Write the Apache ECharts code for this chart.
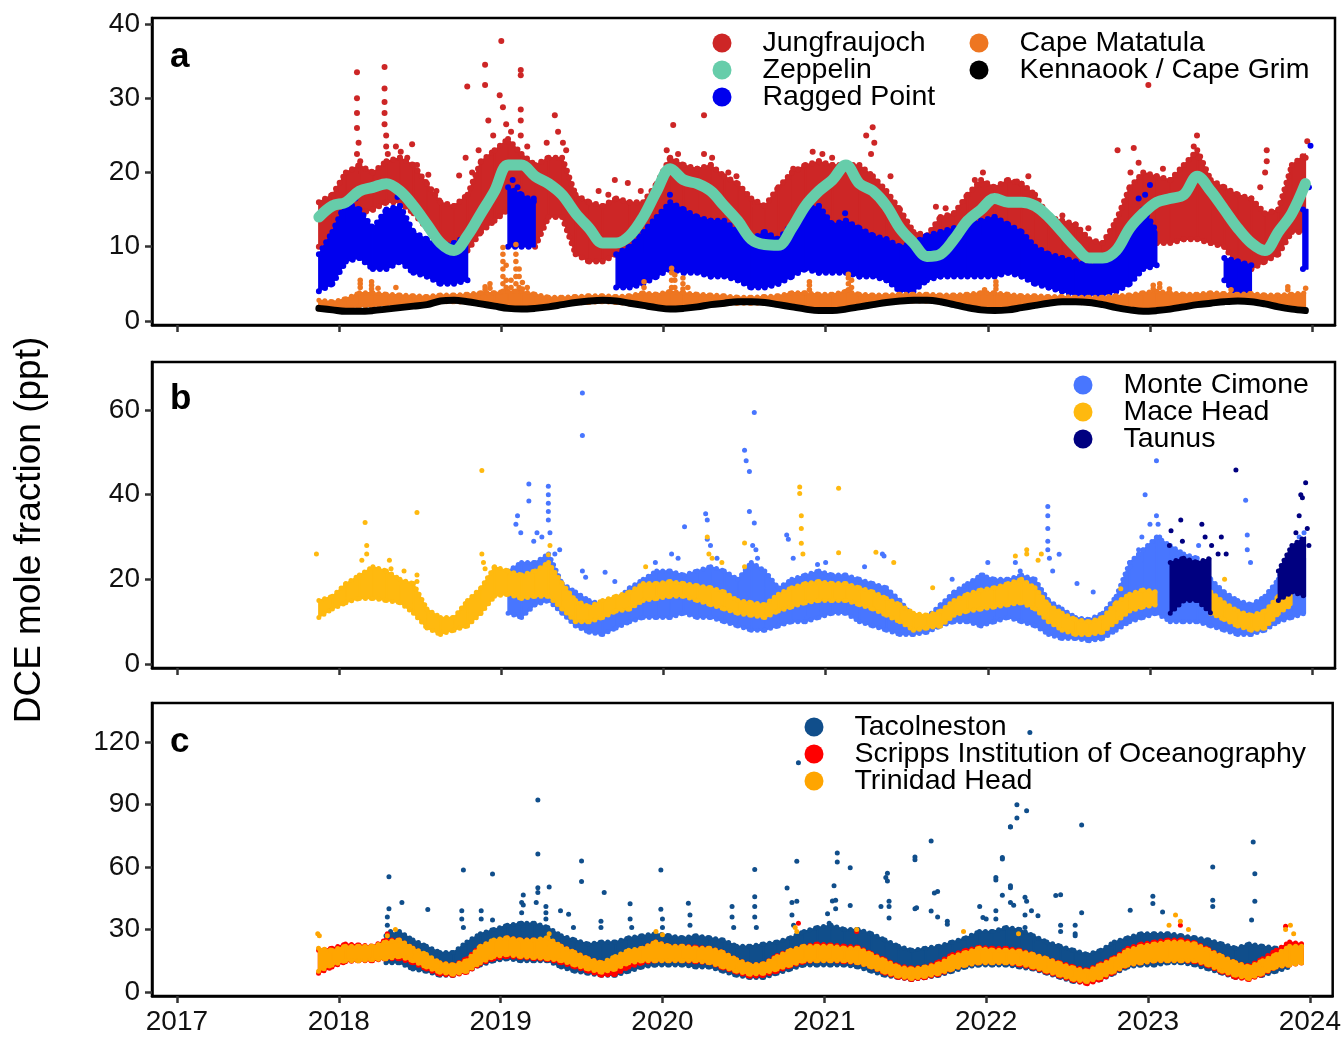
<!DOCTYPE html>
<html>
<head>
<meta charset="utf-8">
<script src="https://cdn.jsdelivr.net/npm/echarts@6/dist/echarts.min.js"></script>
<style>
  html, body { margin: 0; padding: 0; background: #fff; }
  #chart { width: 1344px; height: 1037px; }
</style>
</head>
<body>
<div id="chart"></div>
<script>
// DCE (1,2-dichloroethane) mole fractions at AGAGE-type stations, 2017-2024.
// Monthly envelopes are [low, high] of the observations in that month (null = no data);
// isolated pollution events are listed as [decimal year, ppt].

const FONT = '"Liberation Sans", Arial, Helvetica, sans-serif';

// calendar: Nov 2017 .. Dec 2023, one entry per month
const firstYear = 2017, firstMonth = 11, monthCount = 74;
const monthX = [];
for (let k = 0; k < monthCount; k++) {
  const m = firstMonth - 1 + k;
  monthX.push(firstYear + Math.floor(m / 12) + ((m % 12) + 0.5) / 12);
}

const yearTicks = [2017, 2018, 2019, 2020, 2021, 2022, 2023, 2024];
const ticksA = [0, 10, 20, 30, 40];
const ticksB = [0, 20, 40, 60];
const ticksC = [0, 30, 60, 90, 120];

// ---------- panel a ----------
const jungfraujoch = [
  [10,16],[11,17],
  [14,20],[14.5,21],[15,20],[16,21.5],[16,22],[14.5,21],[12.5,18.5],[10,16],[9.5,15.5],[9.5,17],[12,21.5],[13.5,23],
  [15,24.5],[13,22.5],[10,21],[14,22],[14,22],[9,17],[8,16],[8,15.5],[9,16.5],[9,16],[9.5,16],[11,18.5],
  [13.5,22],[12.5,21],[12,20.5],[10.5,21],[9.5,19.5],[9,18.5],[8.5,16.5],[8.5,15.5],[10,18],[11,20],[12.5,21],[13.5,21.5],
  [13,21],[12.5,21],[12,21],[10,19.5],[9,17.5],[8.5,15],[7.5,12],[7.5,11.5],[8.5,14],[9,14.5],[10.5,17],[12,19],
  [10,18],[11,19],[11,18.5],[10,17],[9,14],[8,13.5],[7.5,13],[7,11],[6.5,10.5],[6.5,13.5],[8.5,18],[10,20],
  [10.5,19.5],[10.5,19],[11,21],[11,23],[10.5,19],[10,18],[7.5,17],[7,16.5],[8,14.5],[9,15],[12,21],[12,22.5]
];
const jungfraujochEvents = [
  [2018.11,33.5],[2018.11,30],[2018.11,28],[2018.11,26],[2018.12,24],[2018.11,22.5],[2018.13,21.5],
  [2018.28,34.2],[2018.28,31.3],[2018.28,29.5],[2018.28,28],[2018.28,26.5],[2018.29,25],[2018.29,23.5],[2018.3,22.5],
  [2018.35,23.5],[2018.38,22.8],[2018.42,22],[2018.45,23.8],[2018.48,21],[2018.55,19.7],[2018.6,17.5],
  [2018.74,19.6],[2018.79,31.6],[2018.78,22],[2018.82,20],[2018.86,23],[2018.9,34.5],[2018.9,31.8],[2018.92,27],
  [2018.95,25],[2018.99,30.4],[2019.0,37.7],[2019.01,28.8],[2019.03,26.5],[2019.06,25.5],[2019.12,33.8],[2019.12,33.1],
  [2019.12,28.5],[2019.12,27],[2019.12,25],[2019.16,23.5],[2019.33,27.7],[2019.35,25.5],[2019.28,24],[2019.38,24],
  [2019.4,23],[2019.6,17.5],[2019.66,17],[2019.7,19],[2019.78,18.6],[2019.86,17.5],[2020.06,26.4],[2020.02,23],
  [2020.09,22.5],[2020.25,27.7],[2020.25,22.5],[2020.3,22],[2020.4,20],[2020.45,19.5],[2020.8,20.5],[2020.92,22.8],
  [2020.98,22.5],[2021.04,22],[2021.25,25],[2021.29,26.1],[2021.3,24],[2021.28,22.5],[2021.4,19.5],[2021.68,15.4],
  [2021.74,15.2],[2021.92,19],[2021.97,20],[2022.18,18.8],[2022.25,19.5],[2022.46,14.2],[2022.62,12.5],[2022.8,23],
  [2022.9,23.3],[2022.88,20],[2022.99,31.8],[2022.93,21.3],[2023.08,20.5],[2023.29,25],[2023.27,23.5],[2023.3,22],
  [2023.72,23],[2023.72,21.5],[2023.71,20],[2023.68,18],[2023.97,24.2],[2023.96,22]
];
const zeppelin = [
  14,15.5,
  16,17.5,18,18.5,17.5,15.5,13,10.5,9.5,11.5,14.5,17.5,
  21,21,19.5,18.5,17,14.5,12.5,10.5,10.5,11.5,14,17.5,
  20.5,19,18.5,17.5,15.5,13.5,11,10.3,10.2,12.5,15.5,17.5,
  19,21,18.5,17.5,15.5,12.5,10.5,8.7,9,11,13.5,15,
  16.5,16,16,15.5,14,12,10,8.5,8.5,9.5,12.5,14.5,
  16,16.5,17,19.5,17.5,15,12.5,10.5,9.5,12,14.5,18.5
];
const raggedPoint = [
  [4,9],[5,12],
  [8,16],[8.5,15],[7,12.5],[7,15],[8,15.5],[6.5,12],[6,11],[5,10],[5,10.5],[5.5,11.5],null,null,
  [10,18],[10,17],[10,16],null,null,null,null,null,[4.5,9],[4.5,10],[5,12],[6,14],
  [7,16],[6.5,15],[6.5,14],[6,13.5],[6,13.5],[5.5,12],[4.5,11],[4.5,12],[5,11],[6,13],[7,15],[6.5,15.5],
  [6.5,13],[6.5,13.5],[6,12.5],[6,11.5],[5.5,11],[4,10],[4,10.5],[5.5,11.5],[6,12],[6,12.5],[6,13],[6,13.5],
  [6,14],[6.5,13],[6,12],[5,10],[4.5,9],[4,8.5],[3.5,8],[3.5,7.5],[3.5,8],[4,9],[5,12],[7,15],
  [7.5,12],null,null,null,null,[5.5,8.5],[3.5,8],[3.5,7.5],null,null,null,[7,15]
];
const raggedPointEvents = [
  [2018.36,16.7],[2018.1,16.5],[2019.07,19],[2019.1,18],[2019.2,16.5],[2020.04,17],[2020.9,15.5],[2021.12,14.5],
  [2022.93,16.5],[2023.0,18.3],[2022.97,17],[2023.98,18],[2023.99,23.6]
];
const capeMatatula = [
  [1.6,2.8],[1.5,2.6],
  [1.6,3.0],[2.0,3.8],[2.0,3.8],[2.2,3.6],[2.2,3.5],[2.3,3.4],[2.4,3.3],[2.6,3.5],[2.6,3.5],[2.5,3.6],[2.2,3.8],[2.0,3.8],
  [1.8,4.0],[1.8,4.0],[1.9,3.6],[2.0,3.2],[2.2,3.2],[2.4,3.3],[2.5,3.4],[2.6,3.4],[2.5,3.3],[2.3,3.4],[2.1,3.8],[1.9,3.6],
  [1.8,4.0],[1.8,3.8],[2.0,3.6],[2.2,3.5],[2.3,3.4],[2.4,3.2],[2.4,3.2],[2.4,3.3],[2.2,3.4],[2.0,3.8],[1.8,3.8],[1.6,3.6],
  [1.6,3.6],[1.8,4.0],[2.0,3.6],[2.3,3.5],[2.5,3.5],[2.6,3.6],[2.7,3.6],[2.7,3.6],[2.5,3.5],[2.2,3.5],[1.9,3.6],[1.7,3.8],
  [1.6,3.8],[1.7,3.6],[1.9,3.4],[2.2,3.4],[2.4,3.3],[2.5,3.3],[2.5,3.2],[2.4,3.2],[2.2,3.2],[1.9,3.4],[1.6,3.5],[1.5,3.8],
  [1.6,4.0],[1.8,3.8],[2.1,3.6],[2.3,3.6],[2.5,3.8],[2.6,3.7],[2.7,3.6],[2.6,3.7],[2.4,3.5],[2.1,3.5],[1.8,3.6],[1.6,3.8]
];
const capeMatatulaEvents = [
  [2018.13,4.5],[2018.13,5],[2018.13,5.5],[2018.2,4.3],[2018.2,4.8],[2018.2,5.3],[2018.24,4.4],[2018.35,4.5],
  [2018.9,4.2],[2018.9,4.6],[2018.93,4.4],[2018.93,5],
  [2019.01,4],[2019.01,5],[2019.01,6],[2019.01,7],[2019.01,8],[2019.01,9],[2019.01,9.9],[2019.03,4.5],[2019.03,5.5],
  [2019.03,7.5],[2019.06,4.5],[2019.06,5.5],[2019.09,4],[2019.09,5],[2019.09,6],[2019.09,7],[2019.09,8],[2019.09,9],
  [2019.09,10.3],[2019.11,4.5],[2019.11,6],[2019.11,7],[2019.13,4.3],[2019.13,5.2],[2019.16,4.5],
  [2019.88,4.5],[2019.88,5.3],[2020.05,4.5],[2020.05,5.5],[2020.05,6.5],[2020.05,7.1],[2020.07,4.5],[2020.07,5.5],
  [2020.07,6.2],[2020.12,4.3],[2020.12,5],[2020.12,5.8],[2020.15,4.5],
  [2020.9,4.2],[2020.9,4.8],[2020.9,5.3],[2021.14,4.2],[2021.14,5],[2021.14,5.8],[2021.14,6.3],[2021.16,4.5],[2021.16,5.5],
  [2021.98,4.2],[2022.05,4.3],[2022.05,4.8],[2022.05,5.3],
  [2023.02,4.3],[2023.02,4.8],[2023.06,4.5],[2023.06,5],[2023.12,4.3],[2023.5,4.2],[2023.85,4.2],[2023.85,4.6],[2023.96,4.4]
];
const kennaook = [
  1.7,1.5,
  1.3,1.3,1.4,1.6,1.8,2.0,2.2,2.7,2.8,2.6,2.3,2.0,
  1.7,1.6,1.7,1.9,2.2,2.5,2.7,2.8,2.7,2.4,2.1,1.8,
  1.6,1.7,1.9,2.2,2.4,2.6,2.6,2.5,2.2,1.9,1.6,1.4,
  1.4,1.6,1.9,2.2,2.5,2.7,2.8,2.8,2.6,2.2,1.8,1.5,
  1.4,1.5,1.8,2.1,2.4,2.6,2.6,2.5,2.2,1.8,1.5,1.3,
  1.4,1.6,1.9,2.2,2.4,2.6,2.7,2.6,2.3,1.9,1.6,1.4
];

// ---------- panel b ----------
const monteCimone = [
  null,null,
  null,null,null,null,null,null,null,null,null,null,null,null,
  [12,22],[11,24],[14,24],[15,26],[12,19],[9,17],[7.5,15],[7,14],[8.5,15],[10,18],[11,20],[11,22],
  [11,22],[12,21],[11,22],[11,23],[10,22],[9,20],[8,24],[8,22],[9,18],[10,20],[10,21],[11,22],
  [12,21],[12,21],[10,20],[9,19],[8,18],[7,15],[7,11],[7.5,11],[9,14],[10,17],[10,19],[9,21],
  [10,20],[11,20],[10,21],[9,20],[7,15],[6,13],[6,11],[5.5,10.5],[6,12],[8,16],[10,24],[11,27],
  [12,30],[10,28],[10,26],[10,25],[9,20],[8,17],[7,15],[7,14],[8,16],[10,20],[11,23],[12,25]
];
const monteCimoneEvents = [
  [2019.09,33],[2019.1,35],[2019.12,31],[2019.17,42.5],[2019.17,38.5],[2019.2,29],[2019.22,31],[2019.25,30],
  [2019.29,42],[2019.29,40],[2019.29,38],[2019.29,36],[2019.29,34],[2019.3,31],[2019.33,26],[2019.36,27],
  [2019.5,64],[2019.5,54],[2019.5,22],[2019.52,20.5],[2019.64,21.7],[2019.7,19.5],[2019.95,24],[2020.05,26],
  [2020.09,25],[2020.13,32.4],[2020.26,35.5],[2020.27,34],[2020.27,29.5],[2020.29,28],[2020.33,25],[2020.5,50.5],
  [2020.51,48],[2020.53,45.5],[2020.56,59.4],[2020.53,36],[2020.56,33.3],[2020.55,28],[2020.57,27],[2020.58,25],
  [2020.76,30.5],[2020.77,29.5],[2020.8,25],[2020.95,23.5],[2021.0,24],[2021.24,23],[2021.35,26],[2021.36,25.5],
  [2021.78,20],[2021.97,21],[2022.0,24],[2022.17,24],[2022.2,22],[2022.37,37.2],[2022.37,35],[2022.37,32],
  [2022.37,29],[2022.37,27],[2022.38,25],[2022.4,22],[2022.44,25.9],[2022.55,19],[2022.65,17],[2022.88,23],
  [2022.93,27],[2022.95,30],[2022.97,40],[2023.0,33],[2023.04,48],[2023.04,35],[2023.05,33],[2023.06,30],
  [2023.3,28],[2023.59,38.7],[2023.6,30.5],[2023.6,27],[2023.62,24],[2023.8,21],[2023.87,26],[2023.92,30],
  [2023.95,31],[2023.95,28]
];
const maceHead = [
  [11,15],[13,16],
  [14.5,19],[15.5,21],[15.5,23],[15,22],[14.5,20],[12,19],[8.5,13],[7,11],[8,11],[9,15],[12,18],[16,23],
  [16.5,22],[15.5,21],[16,22],[16,24],[13,19],[10,15],[10,13.5],[11,15],[12.5,16],[13,17],[15,19],[15.5,19],
  [16,19.5],[16,19],[15,18.5],[14,18],[13,17],[12,15],[11.5,14.5],[11,14],[12.5,16.5],[13.5,18],[14.5,19],[15,19.5],
  [15,19],[15,19],[14,18],[13,17],[11.5,15.5],[10,14],[8,12],[8.5,11.5],[9,12.5],[11.5,15],[12.5,16.5],[13,17.5],
  [13.5,18],[14,19],[14.5,20],[13,18],[10,14],[8,12],[7,10.5],[7,10],[7.5,11],[10,14.5],[12.5,16.5],[13.5,17.5],
  [14,17],null,null,null,[12,17],[10.5,14.5],[9,12.5],[8,11.5],[8.5,12.5],[12,16],[14,19],null
];
const maceHeadEvents = [
  [2017.86,26],[2018.14,24.5],[2018.16,33.4],[2018.17,28],[2018.17,26],[2018.31,24.5],[2018.32,22.5],[2018.4,22],
  [2018.48,35.8],[2018.48,21],[2018.48,19.5],[2018.88,45.7],[2018.88,26],[2018.89,24],[2018.9,22.5],[2019.29,25.8],
  [2019.3,28],[2019.89,23],[2020.27,30],[2020.28,26],[2020.3,25],[2020.36,24],[2020.5,28.6],[2020.84,41.8],
  [2020.84,40.3],[2020.85,35],[2020.85,32],[2020.85,28.5],[2020.86,26],[2020.5,23],[2021.08,41.5],[2021.08,26.3],
  [2021.31,26.4],[2021.42,24],[2021.66,18],[2022.17,25.5],[2022.24,27],[2022.24,26],[2022.33,26],[2022.31,24.5],
  [2022.82,17.8],[2023.46,20],[2023.84,20]
];
const taunus = [
  null,null,
  null,null,null,null,null,null,null,null,null,null,null,null,
  null,null,null,null,null,null,null,null,null,null,null,null,
  null,null,null,null,null,null,null,null,null,null,null,null,
  null,null,null,null,null,null,null,null,null,null,null,null,
  null,null,null,null,null,null,null,null,null,null,null,null,
  null,[12,24],[15,25],[15,24],[12,25],null,null,null,null,[15,22],[17,28],[16,30]
];
const taunusEvents = [
  [2023.12,28],[2023.13,31.5],[2023.19,34],[2023.2,29],[2023.32,33],[2023.34,30],[2023.38,28],[2023.42,26],
  [2023.44,30],[2023.47,26],[2023.53,45.8],[2023.88,27],[2023.9,31],[2023.92,35],[2023.93,40],[2023.94,39.3],
  [2023.96,42.8],[2023.97,32],[2023.98,28]
];

// ---------- panel c ----------
const tacolneston = [
  null,null,
  null,null,null,[14,27],[14,29],[11,25],[10,22],[8,19],[8,19],[10,24],[13,28],[15,30],
  [16,32],[15,33],[15,33],[15,31],[12,27],[10,25],[9,23],[8,24],[8,24],[10,26],[12,27],[13,28],
  [13,27],[13,26],[12,27],[12,26],[10,25],[8,22],[7,22],[7,23],[9,24],[11,26],[13,29],[13,31],
  [13,32],[13,30],[12,30],[10,28],[8,25],[7,22],[6,20],[7,21],[8,22],[10,24],[12,26],[13,29],
  [13,29],[13,31],[12,30],[11,27],[9,24],[7,22],[5,20],[4.5,18],[6,20],[9,24],[12,26],[13,28],
  [13,28],[14,28],[14,27],[13,26],[11,25],[9,23],[7,21],[7,23],[8,22],[10,21],[12,20],null
];
const tacolnestonEvents = [
  [2018.31,55.3],[2018.31,40],[2018.3,36],[2018.3,32],[2018.32,29],[2018.39,43],[2018.55,39.6],[2018.76,39],[2018.76,35],
  [2018.77,31],[2018.77,58.6],[2018.88,39],[2018.88,35],[2018.95,56.6],[2018.95,34.5],[2019.13,43],[2019.13,38],
  [2019.13,33],[2019.14,46.5],[2019.14,41.8],[2019.14,30],[2019.23,92.2],[2019.23,66.2],[2019.23,50],[2019.23,47.8],
  [2019.22,43],[2019.28,41],[2019.28,38],[2019.28,35],[2019.3,50.4],[2019.37,39],[2019.42,37.3],[2019.45,31],
  [2019.5,62.9],[2019.5,53],[2019.62,34],[2019.62,31],[2019.64,47.8],[2019.8,42.4],[2019.8,35],[2019.81,31],
  [2019.99,58.6],[2019.99,39.7],[2020.0,35],[2020.0,31],[2020.16,42.6],[2020.17,37],[2020.17,32],[2020.43,41],
  [2020.43,36],[2020.44,31],[2020.57,58.8],[2020.57,45.7],[2020.57,41],[2020.57,36],[2020.58,31],[2020.77,49.9],
  [2020.8,43],[2020.8,37],[2020.81,32],[2020.83,62.7],[2020.83,43.5],[2020.84,110],[2021.02,37.5],[2021.03,33],
  [2021.05,43.7],[2021.06,51],[2021.07,44],[2021.07,40],[2021.08,66.7],[2021.08,62.4],[2021.16,59.6],[2021.16,41.5],
  [2021.35,41],[2021.38,55],[2021.39,57],[2021.39,53.3],[2021.4,43.5],[2021.4,41],[2021.4,35.5],[2021.56,64.8],
  [2021.56,63.5],[2021.56,40],[2021.57,40.4],[2021.66,72.5],[2021.66,38.9],[2021.68,47.5],[2021.7,48.2],[2021.7,36],
  [2021.76,34],[2021.76,32.5],[2021.96,41],[2021.98,35.8],[2022.0,35],[2022.06,53.8],[2022.06,55],[2022.06,39],
  [2022.06,35],[2022.1,63.8],[2022.1,64.5],[2022.1,46.4],[2022.15,79.2],[2022.15,79.3],[2022.15,50],[2022.15,43],
  [2022.17,41.6],[2022.19,83.5],[2022.19,89.9],[2022.15,51],[2022.24,45.5],[2022.24,37],[2022.24,31],[2022.25,87],
  [2022.27,124.5],[2022.25,43.5],[2022.28,39],[2022.32,36.6],[2022.43,46.3],[2022.46,46.7],[2022.46,32],[2022.46,29],
  [2022.55,32],[2022.55,28],[2022.59,80.2],[2022.59,38],[2022.55,27],[2022.89,39.2],[2023.03,46],[2023.03,42.5],
  [2023.09,38.4],[2023.4,60],[2023.4,44],[2023.4,41],[2023.65,72],[2023.66,56.8],[2023.66,43.5],[2023.64,34.6]
];
const scripps = [
  [9,20],[12,21],
  [14.5,23],[15,22.5],[15,22],[16,25],[16,25],[14,21],[11,17.5],[8.5,14],[8,13],[9.5,16],[13.5,22],[16,24.5],
  [17,26],[16.5,25],[16,25],[15.5,25],[14,22],[12,19],[10,16],[8,14],[8.5,16],[12,19],[14,21],[15,24],
  [15,22],[15,22],[14.5,21.5],[14,21],[11.5,19],[9.5,15.5],[7.5,13],[8,13.5],[10,17.5],[12.5,20],[14.5,22],[15,23],
  [15,22.5],[14.5,22],[14,21.5],[12,18.5],[9,15.5],[7,12.5],[6,11.5],[7,12],[8.5,14.5],[11,18],[13,20],[14,21.5],
  [14,21],[14,21],[13,20],[11.5,18],[9.5,16],[7.5,14],[5.5,12],[4,10.5],[6,13.5],[9.5,16.5],[13,21],[14,23],
  [15,24],[15,25],[15,25],[14.5,23.5],[12.5,20.5],[9.5,17],[7,14],[6,12.5],[8.5,16],[12,20],[13,24],[14,23]
];
const scrippsEvents = [
  [2020.84,33],[2023.2,32],[2023.85,31.5],[2018.3,28],[2021.2,29]
];
const trinidadHead = [
  [10,21],[13,20],
  [15,22],[15,22],[15.5,22],[16,24],[17,25],[15,21],[12,18],[9.5,14],[8.5,13],[10,15],[14,22],[17,25],
  [18,26],[17,25],[16.5,25],[16,26],[15,22],[13,19],[11,16],[9.5,14],[11,17],[14,20],[15,21],[15,24],
  [15,22],[15,22],[15,21],[14,21],[12,19],[10,15.5],[8.5,13],[9,13.5],[11,17],[13,20],[15,22],[15,22],
  [15,22],[15,21],[14,21],[12,18],[9.5,15],[7.5,12],[6.5,11],[7.5,12],[9,13.5],[11,17],[13,19],[14,21],
  [14,20],[14,20],[13.5,19.5],[12,18],[10,16],[8,13.5],[6,11.5],[5,10],[7,13],[10,16],[13,20],[14,22],
  [15,23],[15,24],[15,24],[15,23],[13,20],[10,17],[8,14],[6.5,12],[9,15],[12,18],[13,22],[14,22]
];
const trinidadHeadEvents = [
  [2017.87,28],[2017.88,27],[2018.3,27],[2018.35,30],[2019.3,28],[2019.96,29],[2020.0,27.5],[2020.82,31],
  [2020.83,29],[2021.2,30],[2021.86,29],[2022.2,28],[2023.17,37],[2023.2,34],[2023.13,32],[2023.25,30],
  [2023.85,30],[2023.88,32],[2023.9,28]
];

// ---------- series builders ----------
let zCounter = 2;

// filled envelope between monthly low/high values, with beaded edges like dense markers
function envelope(name, color, rows, ax, bead) {
  const segs = [];
  for (let i = 0; i < rows.length; i++) {
    const a = rows[i];
    if (!a) continue;
    const b = rows[i + 1];
    if (b) {
      segs.push([monthX[i], a[0], a[1], monthX[i + 1], b[0], b[1]]);
    } else if (!rows[i - 1]) {
      segs.push([monthX[i] - 0.015, a[0], a[1], monthX[i] + 0.015, a[0], a[1]]);
    }
  }
  const edge = { stroke: color, lineWidth: bead, lineCap: 'round', lineDash: [0, bead + 1], fill: null };
  return {
    type: 'custom', name, xAxisIndex: ax, yAxisIndex: ax, z: zCounter++,
    itemStyle: { color }, silent: true, data: segs,
    encode: { x: [0, 3], y: [1, 2, 4, 5] },
    renderItem: (params, api) => {
      const p0 = api.coord([api.value(0), api.value(1)]);
      const p1 = api.coord([api.value(3), api.value(4)]);
      const p2 = api.coord([api.value(3), api.value(5)]);
      const p3 = api.coord([api.value(0), api.value(2)]);
      return {
        type: 'group',
        children: [
          { type: 'polygon', shape: { points: [p0, p1, p2, p3] },
            style: { fill: color, stroke: color, lineWidth: 1.5, lineJoin: 'round' } },
          { type: 'polyline', shape: { points: [p3, p2] }, style: edge },
          { type: 'polyline', shape: { points: [p0, p1] }, style: edge }
        ]
      };
    }
  };
}

function events(name, color, pts, ax, size) {
  return {
    type: 'scatter', name, xAxisIndex: ax, yAxisIndex: ax, z: zCounter++,
    data: pts, symbolSize: size, itemStyle: { color, opacity: 1 }, silent: true
  };
}

function trend(name, color, vals, ax, width) {
  return {
    type: 'line', name, xAxisIndex: ax, yAxisIndex: ax, z: zCounter++,
    data: monthX.map((x, i) => [x, vals[i]]),
    showSymbol: false, smooth: 0.35, silent: true,
    itemStyle: { color },
    lineStyle: { color, width, cap: 'round', join: 'round' }
  };
}

const C = {
  jfj: '#CD2626', zep: '#66CDAA', rpb: '#0000EE', smo: '#EE7621', cgo: '#000000',
  cmn: '#4876FF', mhd: '#FFB90F', tob: '#000080',
  tac: '#104E8B', sio: '#FF0000', thd: '#FFA500'
};

const series = [
  envelope('Jungfraujoch', C.jfj, jungfraujoch, 0, 6),
  events('Jungfraujoch', C.jfj, jungfraujochEvents, 0, 6),
  envelope('Ragged Point', C.rpb, raggedPoint, 0, 6),
  events('Ragged Point', C.rpb, raggedPointEvents, 0, 6),
  trend('Zeppelin', C.zep, zeppelin, 0, 11),
  envelope('Cape Matatula', C.smo, capeMatatula, 0, 5),
  events('Cape Matatula', C.smo, capeMatatulaEvents, 0, 5.5),
  trend('Kennaook / Cape Grim', C.cgo, kennaook, 0, 7),

  envelope('Monte Cimone', C.cmn, monteCimone, 1, 5),
  events('Monte Cimone', C.cmn, monteCimoneEvents, 1, 5),
  envelope('Mace Head', C.mhd, maceHead, 1, 5),
  events('Mace Head', C.mhd, maceHeadEvents, 1, 5),
  envelope('Taunus', C.tob, taunus, 1, 5),
  events('Taunus', C.tob, taunusEvents, 1, 5),

  envelope('Tacolneston', C.tac, tacolneston, 2, 5),
  events('Tacolneston', C.tac, tacolnestonEvents, 2, 5),
  envelope('Scripps Institution of Oceanography', C.sio, scripps, 2, 5),
  events('Scripps Institution of Oceanography', C.sio, scrippsEvents, 2, 5),
  envelope('Trinidad Head', C.thd, trinidadHead, 2, 5),
  events('Trinidad Head', C.thd, trinidadHeadEvents, 2, 5)
];

// ---------- axes ----------
const X_MIN = 2016.846, X_MAX = 2024.141;
function xAxis(grid, showLabels) {
  return {
    type: 'value', gridIndex: grid, min: X_MIN, max: X_MAX,
    splitLine: { show: false },
    axisLine: { show: true, onZero: false, lineStyle: { color: '#000', width: 2.5 } },
    axisTick: { show: true, customValues: yearTicks, length: 7, lineStyle: { color: '#333', width: 2.5 } },
    axisLabel: {
      show: showLabels, customValues: yearTicks, formatter: v => String(v),
      fontFamily: FONT, fontSize: 28, color: '#111', margin: 12
    }
  };
}
function yAxis(grid, min, max, ticks) {
  return {
    type: 'value', gridIndex: grid, min, max,
    splitLine: { show: false },
    axisLine: { show: true, onZero: false, lineStyle: { color: '#000', width: 2.5 } },
    axisTick: { show: true, customValues: ticks, length: 7, lineStyle: { color: '#333', width: 2.5 } },
    axisLabel: {
      customValues: ticks, formatter: v => String(v),
      fontFamily: FONT, fontSize: 28, color: '#111', margin: 12
    }
  };
}

const legendText = { fontFamily: FONT, fontSize: 28.5, lineHeight: 27, color: '#000', padding: [0, 0, 0, 26] };
function legend(names, left, top) {
  return {
    data: names, left, top, orient: 'vertical', icon: 'circle',
    itemWidth: 19, itemHeight: 19, itemGap: -2, padding: 0,
    selectedMode: false, textStyle: legendText
  };
}

const gridBox = { show: true, borderColor: '#000', borderWidth: 2.5, backgroundColor: 'transparent' };

const option = {
  animation: false,
  backgroundColor: '#fff',
  grid: [
    Object.assign({ left: 152, top: 18, width: 1183, height: 307 }, gridBox),
    Object.assign({ left: 152, top: 362, width: 1183, height: 306 }, gridBox),
    Object.assign({ left: 152, top: 703, width: 1183, height: 293 }, gridBox)
  ],
  xAxis: [xAxis(0, false), xAxis(1, false), xAxis(2, true)],
  yAxis: [
    yAxis(0, -0.54, 40.81, ticksA),
    yAxis(1, -0.94, 71.34, ticksB),
    yAxis(2, -1.92, 138.7, ticksC)
  ],
  legend: [
    legend(['Jungfraujoch', 'Zeppelin', 'Ragged Point'], 712.5, 28.5),
    legend(['Cape Matatula', 'Kennaook / Cape Grim'], 969.5, 28.5),
    legend(['Monte Cimone', 'Mace Head', 'Taunus'], 1073.5, 370.5),
    legend(['Tacolneston', 'Scripps Institution of Oceanography', 'Trinidad Head'], 804.5, 712.5)
  ],
  graphic: [
    { type: 'text', x: 170, y: 57.5, style: { text: 'a', font: 'bold 35px ' + FONT, fill: '#000', verticalAlign: 'middle' } },
    { type: 'text', x: 170, y: 399, style: { text: 'b', font: 'bold 35px ' + FONT, fill: '#000', verticalAlign: 'middle' } },
    { type: 'text', x: 170, y: 742, style: { text: 'c', font: 'bold 35px ' + FONT, fill: '#000', verticalAlign: 'middle' } },
    {
      type: 'text', x: 30, y: 530, rotation: Math.PI / 2,
      style: { text: 'DCE mole fraction (ppt)', font: '37px ' + FONT, fill: '#000', align: 'center', verticalAlign: 'middle' }
    }
  ],
  series
};

const chart = echarts.init(document.getElementById('chart'), null, { renderer: 'canvas' });
chart.setOption(option);
</script>
</body>
</html>
